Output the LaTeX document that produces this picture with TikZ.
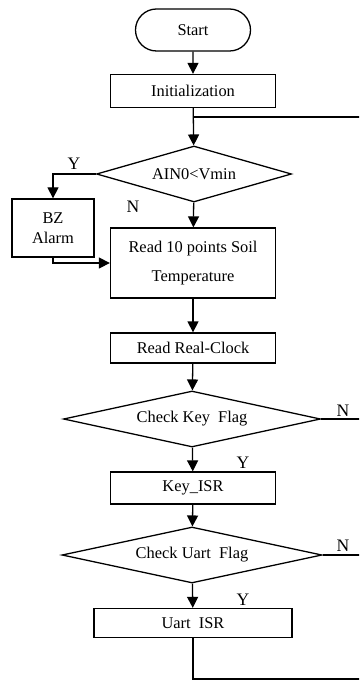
\documentclass[tikz,border=0pt]{standalone}
\usepackage{fontspec}
\setmainfont{Liberation Serif}
\usetikzlibrary{arrows.meta,positioning,shapes.geometric,shapes.misc}

\begin{document}
\begin{tikzpicture}[x=0.03cm,y=-0.03cm,line width=1.1pt,
    font=\fontsize{14}{17}\selectfont,
    box/.style={draw,rectangle,inner sep=0pt,minimum width=4.95cm},
    term/.style={draw,rounded rectangle,inner sep=0pt,minimum width=3.45cm,minimum height=1.26cm},
    dec/.style={draw,diamond,inner sep=0pt,minimum height=1.68cm},
    arr/.style={-{Triangle[length=3.3mm,width=3.3mm]}},
    lbl/.style={font=\fontsize{15}{17}\selectfont}]
  \clip (0,0) rectangle (359,680);
  \node[term] (start) at (193,30) {Start};
  \node[box,minimum height=0.99cm] (init) at (193,91) {Initialization};
  \node[dec,minimum width=5.85cm,aspect=3.48] (ain) at (194,174) {AIN0<Vmin};
  \node[box,minimum width=2.46cm,minimum height=1.74cm,align=center] (bz) at (53,228) {BZ\\Alarm};
  \node[box,minimum height=2.1cm,align=center,font=\fontsize{14}{25}\selectfont] (read) at (193,263) {Read 10 points Soil\\Temperature};
  \node[box,minimum height=0.9cm] (clock) at (193,348) {Read Real-Clock};
  \node[dec,minimum width=7.71cm,aspect=4.59] (key) at (192,419) {Check Key~~Flag};
  \node[box,minimum height=0.96cm] (keyisr) at (193,488) {Key\_ISR};
  \node[dec,minimum width=7.8cm,aspect=4.64] (uart) at (192,555) {Check Uart~~Flag};
  \node[box,minimum width=5.94cm,minimum height=0.87cm] (uartisr) at (193,623) {Uart~~ISR};
  % labels
  \node[lbl] (y1) at (74,164) {Y};
  \node[lbl] (n1) at (133,207) {N};
  \node[lbl] (n2) at (343,411) {N};
  \node[lbl] (y2) at (243,463) {Y};
  \node[lbl] (n3) at (343,546) {N};
  \node[lbl] (y3) at (243,600) {Y};
  % loop back points
  \coordinate (join) at (193,117);
  \coordinate (loopR) at (372,679);
  \draw[arr] (start) -- (init);
  \draw[arr] (init) -- (ain);
  \draw[arr] (ain.west) -| (bz.north);
  \draw[arr] (bz.south) |- (read.west);
  \draw[arr] (ain) -- (read);
  \draw[arr] (read) -- (clock);
  \draw[arr] (clock) -- (key);
  \draw[arr] (key) -- (keyisr);
  \draw[arr] (keyisr) -- (uart);
  \draw[arr] (uart) -- (uartisr);
  \draw (key.east) -- (key.east -| loopR);
  \draw (uart.east) -- (uart.east -| loopR);
  \draw (uartisr.south) |- (loopR) |- (join);
\end{tikzpicture}
\end{document}
